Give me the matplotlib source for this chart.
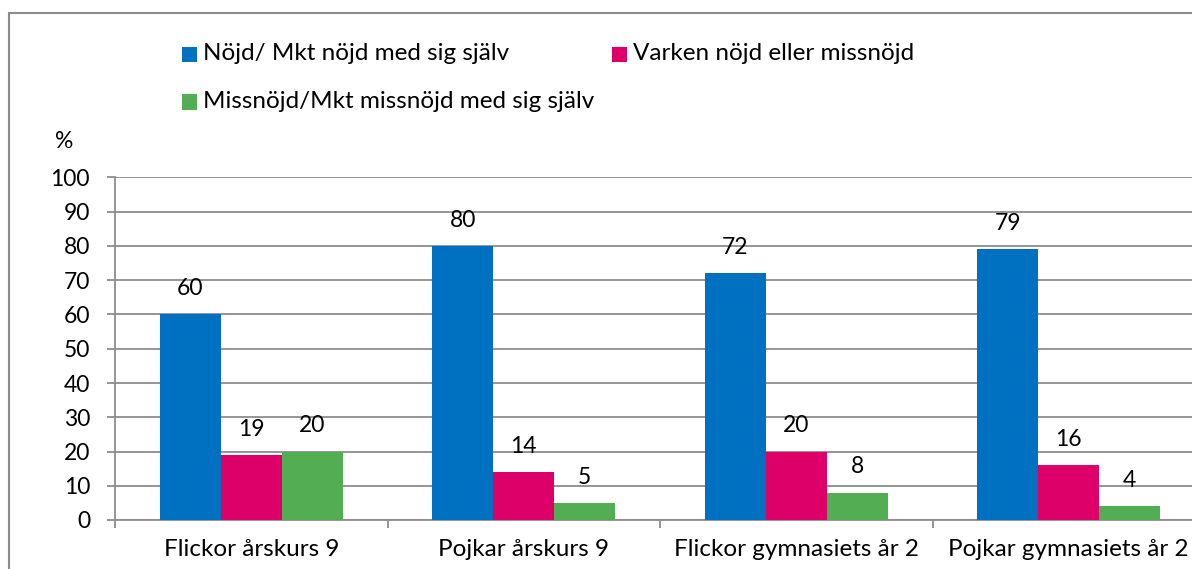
import matplotlib
matplotlib.use("Agg")
import matplotlib.pyplot as plt
from matplotlib.patches import Rectangle
import numpy as np

categories = ["Flickor årskurs 9", "Pojkar årskurs 9", "Flickor gymnasiets år 2", "Pojkar gymnasiets år 2"]
series_names = ["Nöjd/ Mkt nöjd med sig själv", "Varken nöjd eller missnöjd", "Missnöjd/Mkt missnöjd med sig själv"]
nojd = [60, 80, 72, 79]
varken = [19, 14, 20, 16]
missnojd = [20, 5, 8, 4]
yticks = list(range(0, 101, 10))
colors = ["#0070C0", "#DE0068", "#53AD52"]

plt.rcParams['font.family'] = ['Lato', 'DejaVu Sans']
GRID = "#8C8C8C"
FS_TXT = 17.5
FS_NUM = 16.5

fig = plt.figure(figsize=(11.92, 5.69), dpi=100)
W, H = 1192, 569

# outer border
fig.patches.append(Rectangle((8.5 / W, -0.1), 1.2, (569 - 13.5) / H + 0.1,
                             transform=fig.transFigure, fill=False,
                             edgecolor=GRID, linewidth=1.5))

ax = fig.add_axes([115 / W, 49 / H, 1090 / W, 342.5 / H])
x = np.arange(len(categories))
bw = 0.2236
series = [nojd, varken, missnojd]
offsets = [-bw, 0, bw]
for vals, off, c, name in zip(series, offsets, colors, series_names):
    bars = ax.bar(x + off, vals, width=bw, color=c, label=name, zorder=3)
    for b, v in zip(bars, vals):
        ax.annotate(str(v), (b.get_x() + b.get_width() / 2, v), xytext=(0, 11),
                    textcoords="offset points", ha="center", va="bottom",
                    fontsize=FS_NUM, color="black")

ax.set_xlim(-0.5, len(categories) - 0.5)
ax.set_ylim(0, 100)
ax.set_yticks(yticks)
ax.set_yticklabels([str(t) for t in yticks], fontsize=FS_NUM)
ax.yaxis.grid(True, color=GRID, linewidth=1.3, zorder=0)
ax.set_axisbelow(True)
ax.set_xticks(x)
ax.set_xticklabels(categories, fontsize=FS_TXT)
ax.set_xticks(np.arange(-0.5, len(categories), 1.0), minor=True)
ax.tick_params(axis='x', which='major', length=0, pad=14)
ax.tick_params(axis='x', which='minor', length=6, color=GRID, width=1.3, direction='out')
ax.tick_params(axis='y', length=6, color=GRID, width=1.3, pad=12)
for s in ["top", "right"]:
    ax.spines[s].set_visible(False)
for s in ["left", "bottom"]:
    ax.spines[s].set_color(GRID)
    ax.spines[s].set_linewidth(1.3)

# % label
fig.text(64 / W, 1 - 141 / H, "%", fontsize=FS_NUM, ha="center", va="center")

# manual legend
leg_pos = [(182, 54), (612, 54), (182, 102)]
for (lx, ly), c, name in zip(leg_pos, colors, series_names):
    fig.patches.append(Rectangle((lx / W, 1 - (ly + 7.5) / H), 15 / W, 15 / H,
                                 transform=fig.transFigure, facecolor=c, edgecolor="none"))
    fig.text((lx + 21) / W, 1 - ly / H, name, fontsize=FS_TXT, ha="left", va="center")

fig.savefig("out.png", dpi=100)
